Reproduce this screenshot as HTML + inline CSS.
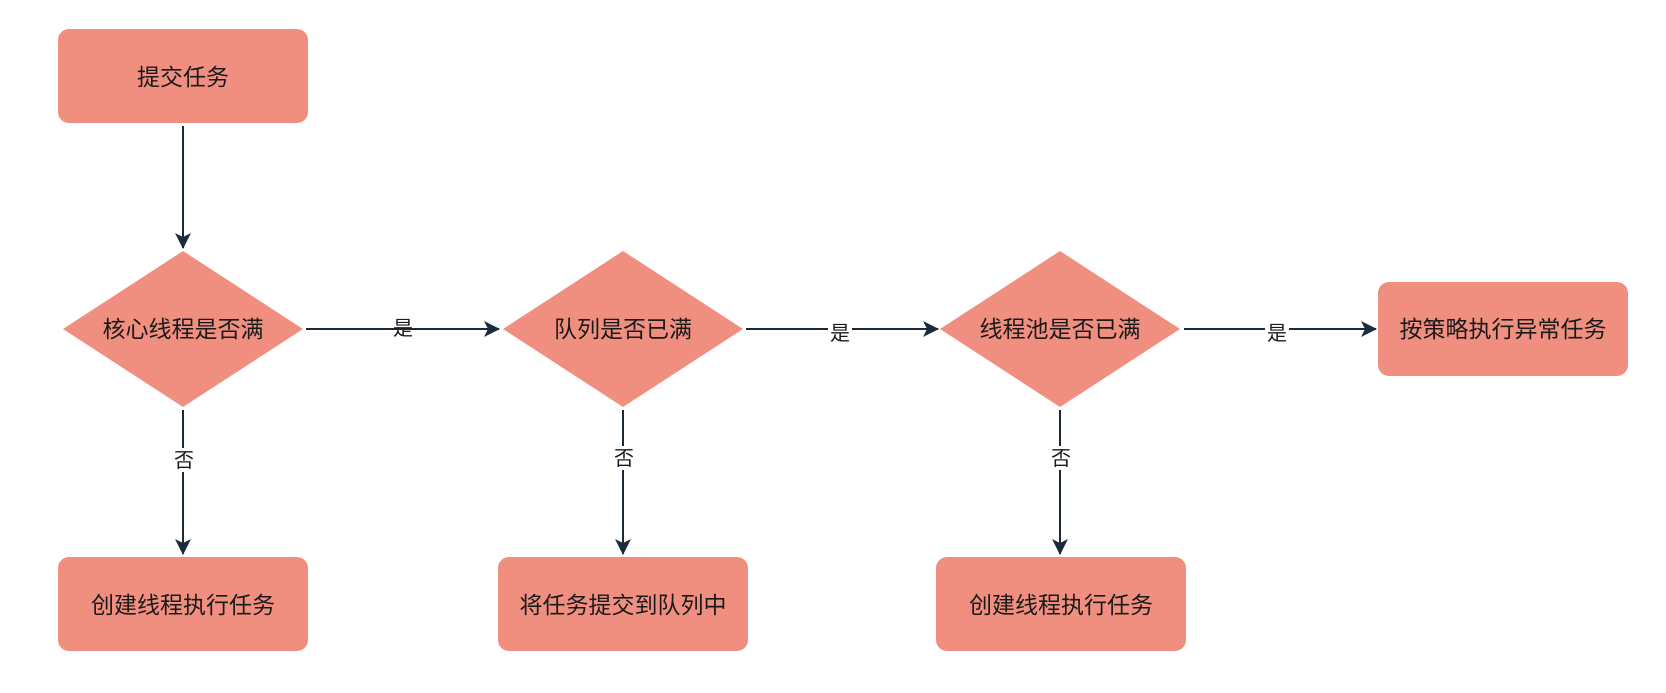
<!DOCTYPE html>
<html><head><meta charset="utf-8"><style>
html,body{margin:0;padding:0;background:#fff;}
svg text{font-family:"Liberation Sans","Noto Sans CJK SC",sans-serif;fill:#1a1a1a;}
</style></head><body>
<svg width="1666" height="688" xmlns="http://www.w3.org/2000/svg">
<defs><marker id="a" markerWidth="18" markerHeight="18" refX="15" refY="8" orient="auto" markerUnits="userSpaceOnUse">
<path d="M0,0 L16,8 L0,16 L4,8 Z" fill="#1c2b3a"/></marker></defs>
<g fill="#f08f80">
<rect x="58" y="29" width="250" height="94" rx="11"/>
<rect x="58" y="557" width="250" height="94" rx="11"/>
<rect x="498" y="557" width="250" height="94" rx="11"/>
<rect x="936" y="557" width="250" height="94" rx="11"/>
<rect x="1378" y="282" width="250" height="94" rx="11"/>
<polygon points="183,251 303,329 183,407 63,329"/>
<polygon points="623,251 743,329 623,407 503,329"/>
<polygon points="1060,251 1180,329 1060,407 940,329"/>
</g>
<g stroke="#1c2b3a" stroke-width="2" fill="none" marker-end="url(#a)">
<line x1="183" y1="126" x2="183" y2="248"/>
<line x1="306" y1="329" x2="499" y2="329"/>
<line x1="746" y1="329" x2="938" y2="329"/>
<line x1="1184" y1="329" x2="1376" y2="329"/>
<line x1="183" y1="410" x2="183" y2="554"/>
<line x1="623" y1="410" x2="623" y2="554"/>
<line x1="1060" y1="410" x2="1060" y2="554"/>
</g>
<g fill="#fff">
<rect x="828" y="320" width="24" height="24"/>
<rect x="1265" y="320" width="24" height="24"/>
<rect x="172" y="448" width="22" height="24"/>
<rect x="612" y="446" width="22" height="24"/>
<rect x="1049" y="446" width="22" height="24"/>
</g>
<g font-size="23" text-anchor="middle">
<text x="183" y="85">提交任务</text>
<text x="183" y="337">核心线程是否满</text>
<text x="623" y="337">队列是否已满</text>
<text x="1060" y="337">线程池是否已满</text>
<text x="1503" y="337">按策略执行异常任务</text>
<text x="183" y="613">创建线程执行任务</text>
<text x="623" y="613">将任务提交到队列中</text>
<text x="1061" y="613">创建线程执行任务</text>
</g>
<g font-size="20" text-anchor="middle">
<text x="403" y="335">是</text>
<text x="840" y="340">是</text>
<text x="1277" y="340">是</text>
<text x="184" y="467">否</text>
<text x="624" y="465">否</text>
<text x="1061" y="465">否</text>
</g>
</svg>
</body></html>
